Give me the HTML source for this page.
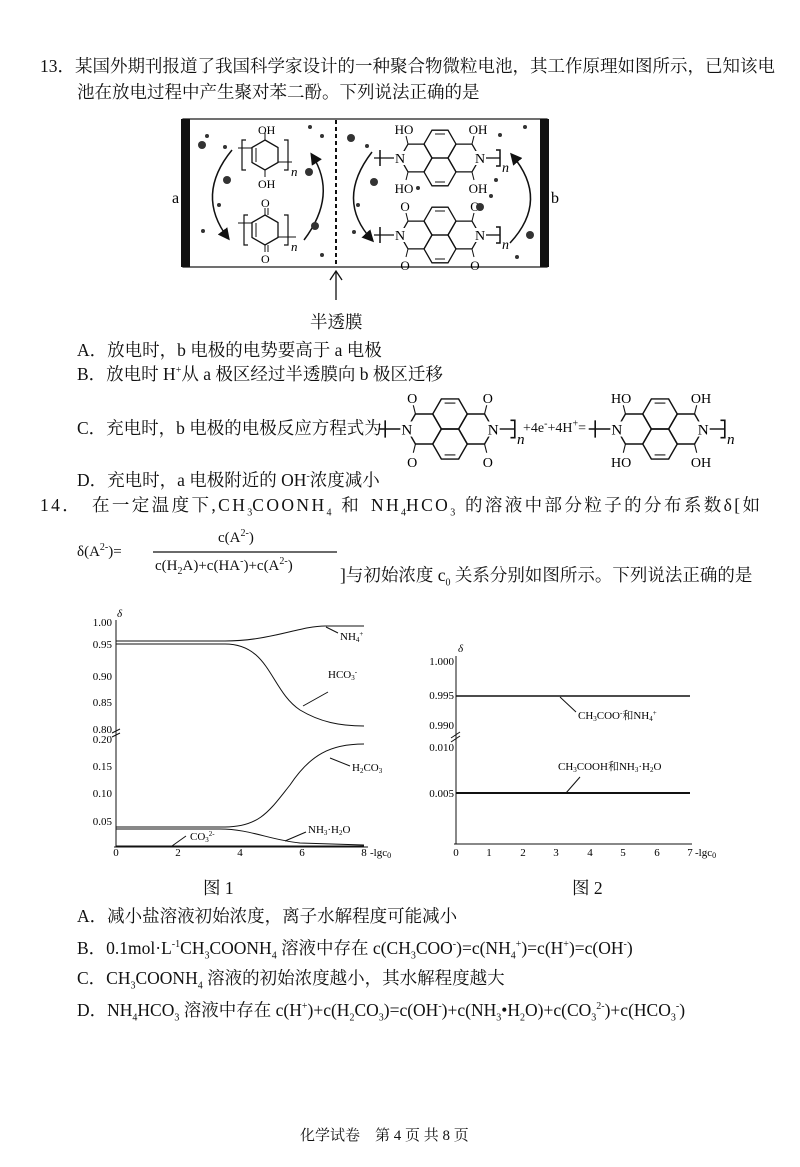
<!DOCTYPE html>
<html><head><meta charset="utf-8"><style>
body{margin:0;background:#fff;}
#p{position:relative;width:800px;height:1167px;overflow:hidden;font-family:"Liberation Serif","Noto Serif CJK SC",serif;color:#111;font-size:17.5px;}
.t{position:absolute;white-space:nowrap;line-height:20px;}
sub,sup{font-size:10px;line-height:0;letter-spacing:0;}
svg{position:absolute;left:0;top:0;}
</style></head><body><div id="p">
<svg width="800" height="1167" viewBox="0 0 800 1167" font-family="Liberation Serif, Noto Serif CJK SC, serif">
<defs>
<path id="hx" d="M-16,0 L-8,-13.9 L8,-13.9 L16,0 L8,13.9 L-8,13.9Z" fill="none" stroke="#111" stroke-width="1.3"/>
<path id="hp" d="M0,-15 L13,-7.5 L13,7.5 L0,15 L-13,7.5 L-13,-7.5Z" fill="none" stroke="#111" stroke-width="1.3"/>
<g id="core">
<use href="#hx" x="0" y="-13.9"/><use href="#hx" x="0" y="13.9"/><use href="#hx" x="-24" y="0"/><use href="#hx" x="24" y="0"/>
<line x1="-5" y1="-24" x2="5" y2="-24" stroke="#111"/><line x1="-5" y1="24" x2="5" y2="24" stroke="#111"/>
</g>
<g id="red"><use href="#core"/>
<rect x="-45" y="-7" width="10" height="14" fill="#fff"/><rect x="35" y="-7" width="10" height="14" fill="#fff"/>
<text x="-40" y="5" font-size="14" text-anchor="middle">N</text><text x="40" y="5" font-size="14" text-anchor="middle">N</text>
<line x1="-32" y1="-14" x2="-34" y2="-22" stroke="#111"/><line x1="32" y1="-14" x2="34" y2="-22" stroke="#111"/>
<line x1="-32" y1="14" x2="-34" y2="22" stroke="#111"/><line x1="32" y1="14" x2="34" y2="22" stroke="#111"/>
<text x="-36" y="-24" font-size="13" text-anchor="middle">HO</text><text x="38" y="-24" font-size="13" text-anchor="middle">OH</text>
<text x="-36" y="35" font-size="13" text-anchor="middle">HO</text><text x="38" y="35" font-size="13" text-anchor="middle">OH</text>
<line x1="-46" y1="0" x2="-66" y2="0" stroke="#111" stroke-width="1.3"/><path d="M-60,-8 L-60,8" stroke="#111" stroke-width="1.5"/>
<line x1="46" y1="0" x2="60" y2="0" stroke="#111" stroke-width="1.3"/><path d="M56,-8 L60,-8 L60,8 L56,8" fill="none" stroke="#111" stroke-width="1.5"/>
<text x="62" y="14" font-size="14" font-style="italic">n</text>
</g>
<g id="ox"><use href="#core"/>
<rect x="-45" y="-7" width="10" height="14" fill="#fff"/><rect x="35" y="-7" width="10" height="14" fill="#fff"/>
<text x="-40" y="5" font-size="14" text-anchor="middle">N</text><text x="40" y="5" font-size="14" text-anchor="middle">N</text>
<line x1="-32" y1="-14" x2="-34" y2="-22" stroke="#111"/><line x1="32" y1="-14" x2="34" y2="-22" stroke="#111"/>
<line x1="-32" y1="14" x2="-34" y2="22" stroke="#111"/><line x1="32" y1="14" x2="34" y2="22" stroke="#111"/>
<text x="-35" y="-24" font-size="13" text-anchor="middle">O</text><text x="35" y="-24" font-size="13" text-anchor="middle">O</text>
<text x="-35" y="35" font-size="13" text-anchor="middle">O</text><text x="35" y="35" font-size="13" text-anchor="middle">O</text>
<line x1="-46" y1="0" x2="-66" y2="0" stroke="#111" stroke-width="1.3"/><path d="M-60,-8 L-60,8" stroke="#111" stroke-width="1.5"/>
<line x1="46" y1="0" x2="60" y2="0" stroke="#111" stroke-width="1.3"/><path d="M56,-8 L60,-8 L60,8 L56,8" fill="none" stroke="#111" stroke-width="1.5"/>
<text x="62" y="14" font-size="14" font-style="italic">n</text>
</g>
<marker id="ar" markerWidth="8" markerHeight="8" refX="6" refY="4" orient="auto"><path d="M0,0 L8,4 L0,8 Z" fill="#111"/></marker>
</defs>
<!-- cell -->
<rect x="183" y="119" width="364" height="148" fill="none" stroke="#111" stroke-width="1.2"/>
<rect x="181" y="119" width="9" height="148" fill="#111"/><rect x="540" y="119" width="9" height="148" fill="#111"/>
<line x1="336" y1="120" x2="336" y2="266" stroke="#111" stroke-width="2" stroke-dasharray="4,3"/>
<text x="172" y="203" font-size="16">a</text><text x="551" y="203" font-size="16">b</text>
<line x1="336" y1="300" x2="336" y2="272" stroke="#111" stroke-width="1.3"/><path d="M330,280 L336,271 L342,280" fill="none" stroke="#111" stroke-width="1.3"/>
<!-- left molecules -->
<use href="#hp" x="265" y="155"/><line x1="256" y1="148" x2="256" y2="162" stroke="#111"/>
<line x1="265" y1="140" x2="265" y2="133" stroke="#111"/><text x="258" y="134" font-size="12">OH</text>
<line x1="265" y1="170" x2="265" y2="177" stroke="#111"/><text x="258" y="188" font-size="12">OH</text>
<line x1="238" y1="148" x2="252" y2="148" stroke="#111"/><line x1="242" y1="140" x2="242" y2="156" stroke="#111"/>
<path d="M246,140 L242,140 L242,170 L246,170" fill="none" stroke="#111" stroke-width="1.2"/>
<line x1="278" y1="162" x2="292" y2="162" stroke="#111"/><path d="M284,140 L288,140 L288,170 L284,170" fill="none" stroke="#111" stroke-width="1.2"/>
<text x="291" y="176" font-size="13" font-style="italic">n</text>
<use href="#hp" x="265" y="230"/><line x1="256" y1="223" x2="256" y2="237" stroke="#111"/>
<line x1="265" y1="215" x2="265" y2="208" stroke="#111"/><line x1="268" y1="215" x2="268" y2="208" stroke="#111"/><text x="261" y="207" font-size="12">O</text>
<line x1="265" y1="245" x2="265" y2="252" stroke="#111"/><line x1="268" y1="245" x2="268" y2="252" stroke="#111"/><text x="261" y="263" font-size="12">O</text>
<line x1="238" y1="223" x2="252" y2="223" stroke="#111"/><path d="M248,215 L244,215 L244,245 L248,245" fill="none" stroke="#111" stroke-width="1.2"/>
<line x1="278" y1="237" x2="296" y2="237" stroke="#111"/><path d="M284,215 L288,215 L288,245 L284,245" fill="none" stroke="#111" stroke-width="1.2"/>
<text x="291" y="251" font-size="13" font-style="italic">n</text>
<path d="M232,150 Q195,195 228,238" fill="none" stroke="#111" stroke-width="1.5" marker-end="url(#ar)"/>
<path d="M304,240 Q338,195 312,155" fill="none" stroke="#111" stroke-width="1.5" marker-end="url(#ar)"/>
<!-- right molecules -->
<use href="#red" x="440" y="158"/>
<use href="#ox" x="440" y="235"/>
<path d="M372,152 Q335,200 372,240" fill="none" stroke="#111" stroke-width="1.5" marker-end="url(#ar)"/>
<path d="M510,243 Q550,200 512,155" fill="none" stroke="#111" stroke-width="1.5" marker-end="url(#ar)"/>
<!-- particles -->
<g fill="#333">
<circle cx="202" cy="145" r="4"/><circle cx="207" cy="136" r="2"/><circle cx="225" cy="147" r="2"/><circle cx="227" cy="180" r="4"/><circle cx="219" cy="205" r="2"/><circle cx="203" cy="231" r="2"/>
<circle cx="310" cy="127" r="2"/><circle cx="322" cy="136" r="2"/><circle cx="309" cy="172" r="4"/><circle cx="315" cy="226" r="4"/><circle cx="322" cy="255" r="2"/>
<circle cx="351" cy="138" r="4"/><circle cx="367" cy="146" r="2"/><circle cx="374" cy="182" r="4"/><circle cx="418" cy="188" r="2"/><circle cx="358" cy="205" r="2"/><circle cx="354" cy="232" r="2"/>
<circle cx="500" cy="135" r="2"/><circle cx="525" cy="127" r="2"/><circle cx="491" cy="196" r="2"/><circle cx="480" cy="207" r="4"/><circle cx="530" cy="235" r="4"/><circle cx="517" cy="257" r="2"/><circle cx="496" cy="180" r="2"/>
</g>
<!-- option C molecules -->
<g transform="translate(450,429) scale(1.08)"><use href="#ox"/></g>
<g transform="translate(660,429) scale(1.08)"><use href="#red"/></g>
<!-- chart 1 -->
<g stroke="#111" fill="none" stroke-width="1">
<line x1="116" y1="620" x2="116" y2="847"/><line x1="114" y1="847" x2="368" y2="847"/>
<line x1="112" y1="733" x2="120" y2="729"/><line x1="112" y1="737" x2="120" y2="733"/>
<path d="M116,641 L225,641 C270,641 300,626 325,626 L364,626"/>
<path d="M116,644 L225,644 C270,644 270,690 300,710 C320,722 340,726 364,726"/>
<path d="M116,827 L225,827 C260,827 270,810 290,785 C310,755 330,744 364,744"/>
<path d="M116,829 L220,829 C250,829 270,840 300,843 L364,845"/>
<path d="M116,846 L364,846"/>
<path d="M326,627 L338,633"/><path d="M303,706 L328,692"/><path d="M330,758 L350,766"/><path d="M285,841 L306,832"/><path d="M172,846 L186,836"/>
</g>
<g font-size="11" text-anchor="end">
<text x="112" y="626">1.00</text><text x="112" y="648">0.95</text><text x="112" y="680">0.90</text><text x="112" y="706">0.85</text><text x="112" y="733">0.80</text>
<text x="112" y="743">0.20</text><text x="112" y="770">0.15</text><text x="112" y="797">0.10</text><text x="112" y="825">0.05</text>
</g>
<g font-size="11" text-anchor="middle"><text x="116" y="856">0</text><text x="178" y="856">2</text><text x="240" y="856">4</text><text x="302" y="856">6</text><text x="364" y="856">8</text></g>
<g font-size="11"><text x="117" y="617" font-style="italic">δ</text><text x="370" y="856">-lgc<tspan font-size="8" dy="2">0</tspan></text>
<text x="340" y="640">NH<tspan font-size="7" dy="2">4</tspan><tspan font-size="7" dy="-6">+</tspan></text>
<text x="328" y="678">HCO<tspan font-size="7" dy="2">3</tspan><tspan font-size="7" dy="-6">-</tspan></text>
<text x="352" y="771">H<tspan font-size="7" dy="2">2</tspan><tspan dy="-2">CO</tspan><tspan font-size="7" dy="2">3</tspan></text>
<text x="308" y="833">NH<tspan font-size="7" dy="2">3</tspan><tspan dy="-2">·H</tspan><tspan font-size="7" dy="2">2</tspan><tspan dy="-2">O</tspan></text>
<text x="190" y="840">CO<tspan font-size="7" dy="2">3</tspan><tspan font-size="7" dy="-6">2-</tspan></text></g>
<!-- chart 2 -->
<g stroke="#111" fill="none">
<line x1="456" y1="656" x2="456" y2="844"/><line x1="454" y1="844" x2="692" y2="844"/>
<line x1="451" y1="738" x2="460" y2="732"/><line x1="451" y1="742" x2="460" y2="736"/>
<line x1="456" y1="696" x2="690" y2="696" stroke-width="1.6"/>
<line x1="456" y1="793" x2="690" y2="793" stroke-width="2"/>
<line x1="560" y1="697" x2="576" y2="712"/><line x1="566" y1="793" x2="580" y2="777"/>
</g>
<g font-size="11" text-anchor="end"><text x="454" y="665">1.000</text><text x="454" y="699">0.995</text><text x="454" y="729">0.990</text><text x="454" y="751">0.010</text><text x="454" y="797">0.005</text></g>
<g font-size="11" text-anchor="middle"><text x="456" y="856">0</text><text x="489" y="856">1</text><text x="523" y="856">2</text><text x="556" y="856">3</text><text x="590" y="856">4</text><text x="623" y="856">5</text><text x="657" y="856">6</text><text x="690" y="856">7</text></g>
<g font-size="11"><text x="458" y="652" font-style="italic">δ</text><text x="695" y="856">-lgc<tspan font-size="8" dy="2">0</tspan></text>
<text x="578" y="719">CH<tspan font-size="7" dy="2">3</tspan><tspan dy="-2">COO</tspan><tspan font-size="7" dy="-4">-</tspan><tspan dy="4">和NH</tspan><tspan font-size="7" dy="2">4</tspan><tspan font-size="7" dy="-6">+</tspan></text>
<text x="558" y="770">CH<tspan font-size="7" dy="2">3</tspan><tspan dy="-2">COOH和NH</tspan><tspan font-size="7" dy="2">3</tspan><tspan dy="-2">·H</tspan><tspan font-size="7" dy="2">2</tspan><tspan dy="-2">O</tspan></text></g>
<!-- fraction -->
<line x1="153" y1="552" x2="337" y2="552" stroke="#111" stroke-width="1.2"/>
</svg>
<div class="t" style="left:40px;top:56px;">13．某国外期刊报道了我国科学家设计的一种聚合物微粒电池，其工作原理如图所示，已知该电</div>
<div class="t" style="left:77px;top:82px;">池在放电过程中产生聚对苯二酚。下列说法正确的是</div>
<div class="t" style="left:310px;top:312px;">半透膜</div>
<div class="t" style="left:77px;top:340px;">A．放电时，b 电极的电势要高于 a 电极</div>
<div class="t" style="left:77px;top:364px;">B．放电时 H<sup>+</sup>从 a 极区经过半透膜向 b 极区迁移</div>
<div class="t" style="left:77px;top:418px;">C．充电时，b 电极的电极反应方程式为</div>
<div class="t" style="left:523px;top:419px;font-size:14px;">+4e<sup>-</sup>+4H<sup>+</sup>=</div>
<div class="t" style="left:77px;top:470px;">D．充电时，a 电极附近的 OH<sup>-</sup>浓度减小</div>
<div class="t" style="left:40px;top:495px;letter-spacing:2.4px;word-spacing:3px;">14． 在一定温度下,CH<sub>3</sub>COONH<sub>4</sub> 和 NH<sub>4</sub>HCO<sub>3</sub> 的溶液中部分粒子的分布系数δ[如</div>
<div class="t" style="left:77px;top:542px;font-size:15px;">δ(A<sup>2-</sup>)=</div>
<div class="t" style="left:218px;top:528px;font-size:15px;">c(A<sup>2-</sup>)</div>
<div class="t" style="left:155px;top:556px;font-size:15px;">c(H<sub>2</sub>A)+c(HA<sup>-</sup>)+c(A<sup>2-</sup>)</div>
<div class="t" style="left:340px;top:565px;">]与初始浓度 c<sub>0</sub> 关系分别如图所示。下列说法正确的是</div>
<div class="t" style="left:203px;top:878px;">图 1</div>
<div class="t" style="left:572px;top:878px;">图 2</div>
<div class="t" style="left:77px;top:906px;">A．减小盐溶液初始浓度，离子水解程度可能减小</div>
<div class="t" style="left:77px;top:938px;">B．0.1mol·L<sup>-1</sup>CH<sub>3</sub>COONH<sub>4</sub> 溶液中存在 c(CH<sub>3</sub>COO<sup>-</sup>)=c(NH<sub>4</sub><sup>+</sup>)=c(H<sup>+</sup>)=c(OH<sup>-</sup>)</div>
<div class="t" style="left:77px;top:968px;">C．CH<sub>3</sub>COONH<sub>4</sub> 溶液的初始浓度越小，其水解程度越大</div>
<div class="t" style="left:77px;top:1000px;">D．NH<sub>4</sub>HCO<sub>3</sub> 溶液中存在 c(H<sup>+</sup>)+c(H<sub>2</sub>CO<sub>3</sub>)=c(OH<sup>-</sup>)+c(NH<sub>3</sub>•H<sub>2</sub>O)+c(CO<sub>3</sub><sup>2-</sup>)+c(HCO<sub>3</sub><sup>-</sup>)</div>
<div class="t" style="left:300px;top:1126px;font-size:15px;">化学试卷　第 4 页 共 8 页</div>
</div></body></html>
